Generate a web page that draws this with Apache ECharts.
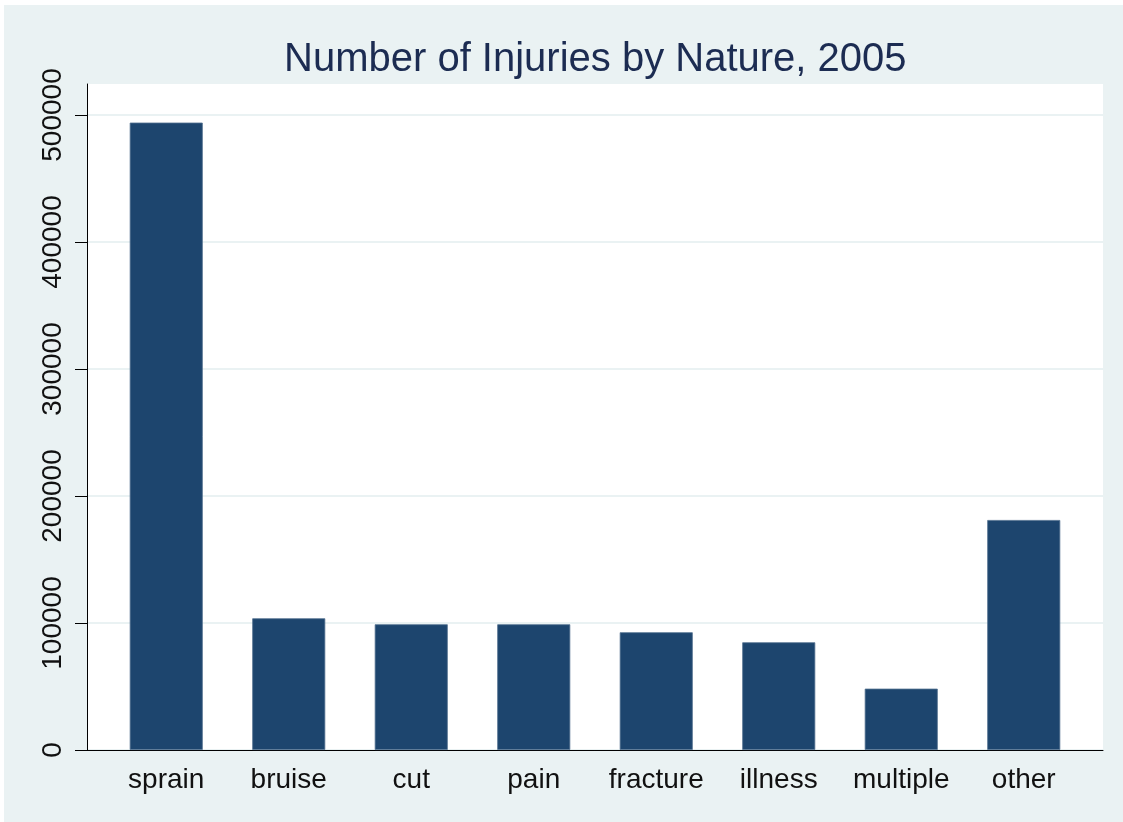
<!DOCTYPE html>
<html>
<head>
<meta charset="utf-8">
<script src="https://cdn.jsdelivr.net/npm/echarts@6/dist/echarts.min.js"></script>
<style>
  html, body { margin: 0; padding: 0; background: #fff; }
  #chart { position: absolute; left: 4px; top: 5px; width: 1119px; height: 817px; background: #eaf2f3; }
</style>
</head>
<body>
<div id="chart"></div>
<script>
// data
var categories = ['sprain', 'bruise', 'cut', 'pain', 'fracture', 'illness', 'multiple', 'other'];
var injuries = [494000, 103700, 99000, 99000, 92700, 84800, 48300, 181100];
var yTicks = [0, 100000, 200000, 300000, 400000, 500000];
var yMax = 524400;

var chart = echarts.init(document.getElementById('chart'), null, { renderer: 'canvas' });

var option = {
  backgroundColor: '#eaf2f3',
  title: {
    text: 'Number of Injuries by Nature, 2005',
    left: 280,
    top: 35,
    padding: 0,
    textStyle: {
      fontFamily: 'Liberation Sans',
      fontSize: 40,
      fontWeight: 'normal',
      color: '#1c2c52'
    }
  },
  // grid 0 = white plot region with y axis, grid 1 = narrower band for the bars
  grid: [
    { left: 83, right: 20, top: 79, bottom: 72, show: true, backgroundColor: '#fff', borderWidth: 0 },
    { left: 101, right: 38, top: 79, bottom: 72 }
  ],
  xAxis: [{
    gridIndex: 0,
    type: 'value',
    min: 0,
    max: 1,
    axisLine: { show: true, lineStyle: { color: '#000', width: 1 } },
    axisTick: { show: false },
    axisLabel: { show: false },
    splitLine: { show: false }
  }, {
    gridIndex: 1,
    type: 'category',
    data: categories,
    axisLine: { show: false },
    axisTick: { show: false },
    axisLabel: {
      interval: 0,
      margin: 16,
      fontFamily: 'Liberation Sans',
      fontSize: 28,
      color: '#111'
    }
  }],
  yAxis: [{
    gridIndex: 0,
    type: 'value',
    min: 0,
    max: yMax,
    interval: 100000,
    axisLine: { show: true, lineStyle: { color: '#000', width: 1 } },
    axisTick: { show: true, length: 12, customValues: yTicks, lineStyle: { color: '#000' } },
    axisLabel: {
      rotate: 90,
      margin: 20,
      customValues: yTicks,
      formatter: function (v) { return String(v); },
      fontFamily: 'Liberation Sans',
      fontSize: 28,
      color: '#111'
    },
    splitLine: { show: true, lineStyle: { color: '#eaf2f3', width: 2 } }
  }, {
    gridIndex: 1,
    type: 'value',
    min: 0,
    max: yMax,
    show: false
  }],
  series: [{
    type: 'bar',
    xAxisIndex: 1,
    yAxisIndex: 1,
    barWidth: 73,
    data: injuries,
    itemStyle: { color: '#1d456e', borderColor: '#52708f', borderWidth: 0.8 },
    silent: true
  }]
};

chart.setOption(option);
</script>
</body>
</html>
